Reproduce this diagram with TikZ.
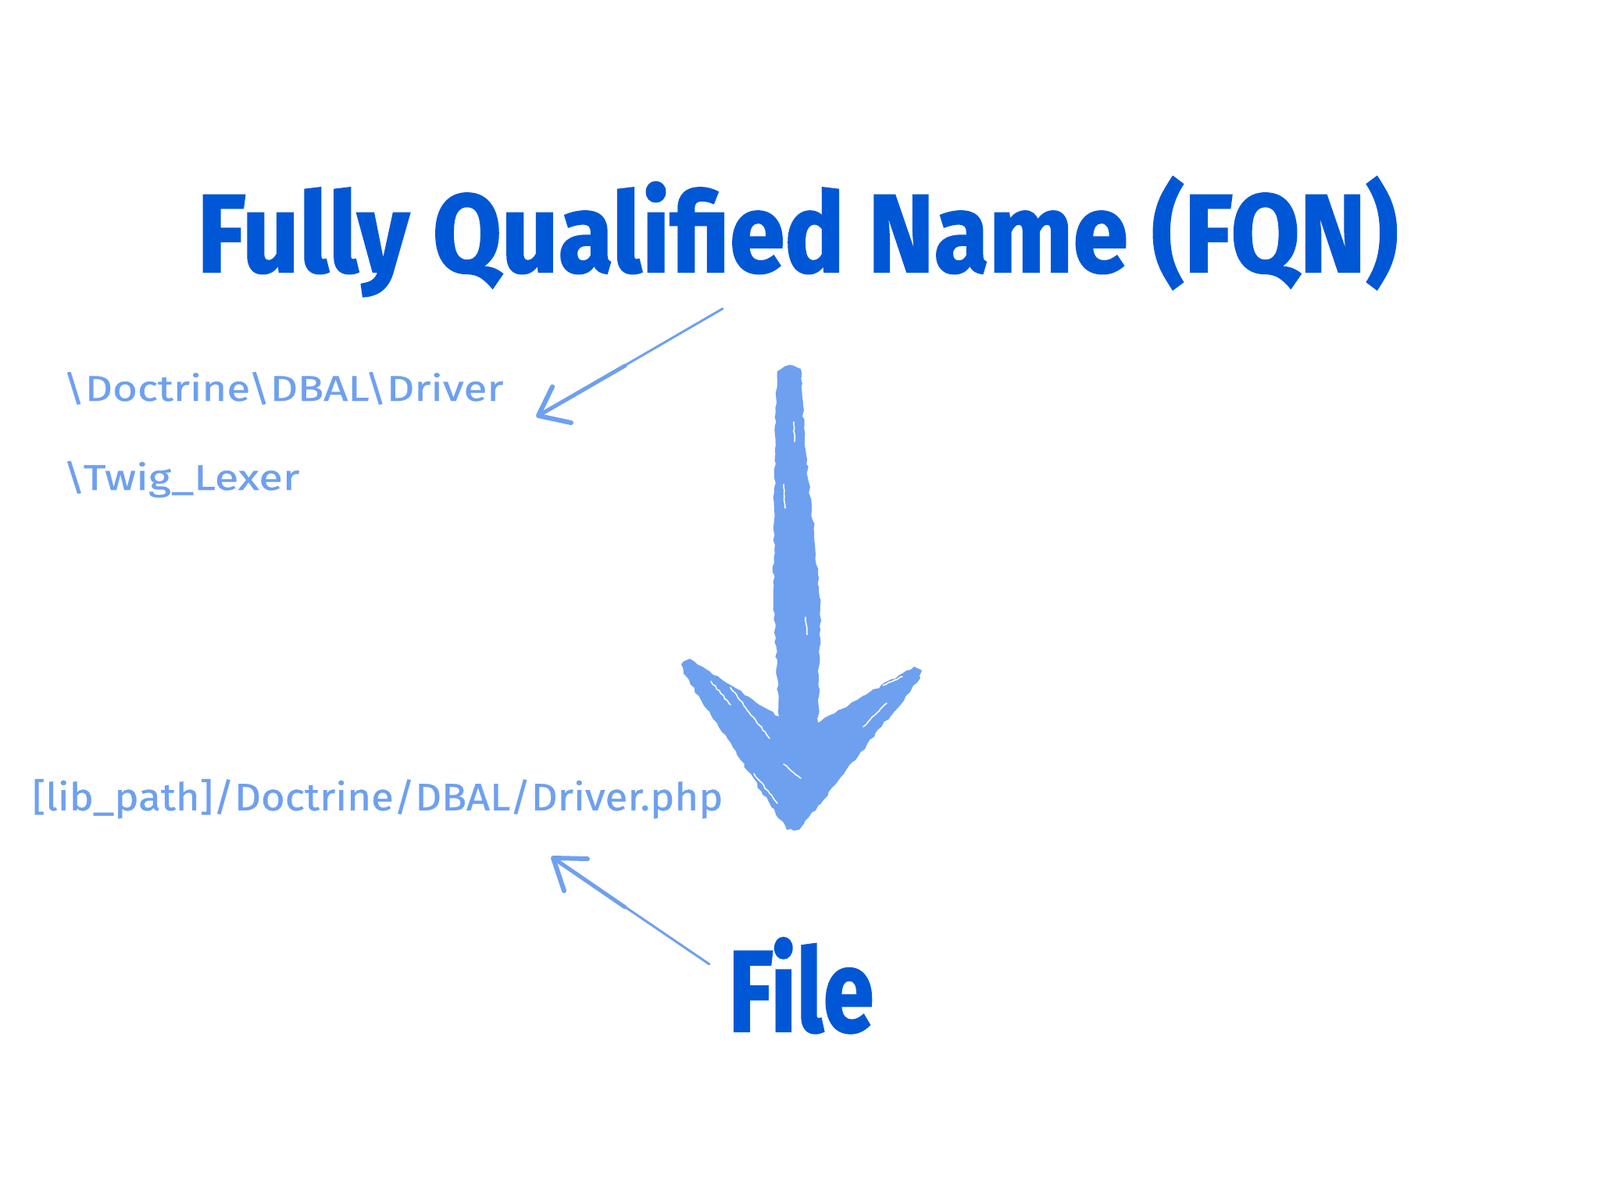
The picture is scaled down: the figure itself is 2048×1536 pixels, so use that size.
\documentclass[tikz,border=0pt]{standalone}
\usepackage{fontspec}
\setmainfont{Fira Sans}
\newfontfamily\titlefont[FakeBold=1.5]{Fira Sans}
\newfontfamily\handfont[FakeBold=0.6]{Fira Sans}
\usepackage{graphicx}
\usetikzlibrary{decorations.pathmorphing}
\definecolor{darkblue}{HTML}{0057D6}
\definecolor{lightblue}{HTML}{6EA0F0}
\begin{document}
\begin{tikzpicture}[x=0.5pt,y=-0.5pt,
  titletext/.style={inner sep=0pt, anchor=base west, text=darkblue, font=\titlefont\bfseries},
  handtext/.style={inner sep=0pt, anchor=base west, text=lightblue, font=\handfont},
  brush/.style={draw=lightblue, line cap=round, line join=round, line width=2.5pt},
  brushtip/.style={draw=lightblue, line cap=round, line join=round, line width=3pt},
  bigbrush/.style={fill=lightblue, decorate, decoration={random steps, segment length=3pt, amplitude=0.8pt}},
  scratch/.style={draw=white, line cap=round, line width=0.8pt, decorate, decoration={random steps, segment length=2pt, amplitude=0.4pt}}
]
\useasboundingbox[fill=white] (0,0) rectangle (2048,1536);

% texts
\node[titletext] (fqn) at (252,348) {\resizebox{768.5pt}{61pt}{Fully Qualified Name (FQN)}};
\node[handtext] (ns1) at (80,513) {\resizebox{282pt}{18.5pt}{\textbackslash Doctrine\textbackslash DBAL\textbackslash Driver}};
\node[handtext] (ns2) at (80,627) {\resizebox{151.5pt}{18.5pt}{\textbackslash Twig\_Lexer}};
\node[handtext] (path) at (41,1037) {\resizebox{442pt}{20pt}{[lib\_path]/Doctrine/DBAL/Driver.php}};
\node[titletext] (file) at (932,1320) {\resizebox{93pt}{60pt}{File}};

% arrow from title to namespace
\coordinate (a1s) at (925,395);
\coordinate (a1m) at (800,468);
\coordinate (a1t) at (689,532);
\coordinate (a1b1) at (707,495);
\coordinate (a1b2) at (731,541);
\draw[brush, line width=1.5pt] (a1s) -- (a1t);
\draw[brush] (a1m) -- (a1t);
\draw[brushtip] (a1b1) -- (a1t) -- (a1b2);

% arrow from File to path
\coordinate (a3s) at (908,1234);
\coordinate (a3m) at (800,1161);
\coordinate (a3t) at (708,1098);
\coordinate (a3b1) at (752,1099);
\coordinate (a3b2) at (722,1140);
\draw[brush, line width=1.5pt] (a3s) -- (a3t);
\draw[brush] (a3m) -- (a3t);
\draw[brushtip] (a3b1) -- (a3t) -- (a3b2);

% big brush arrow
\fill[bigbrush] (995,475) -- (1010,467) -- (1025,472) -- (1031,575) -- (1042,680) -- (1050,775)
  -- (1047,925) -- (1170,853) -- (1180,858) -- (1178,868) -- (1023,1062) -- (1007,1062)
  -- (875,862) -- (872,850) -- (883,843) -- (997,917) -- (990,762) -- (992,575) -- cycle;
% brush texture
\draw[scratch] (910,872) -- (935,902);
\draw[scratch] (935,880) -- (985,945);
\draw[scratch] (965,990) -- (995,1028);
\draw[scratch] (1003,978) -- (1025,996);
\draw[scratch] (1105,930) -- (1135,900);
\draw[scratch] (1130,877) -- (1155,866);
\draw[scratch] (1003,620) -- (1005,650);
\draw[scratch] (1016,540) -- (1017,565);
\draw[scratch] (1031,790) -- (1033,812);
\end{tikzpicture}
\end{document}
